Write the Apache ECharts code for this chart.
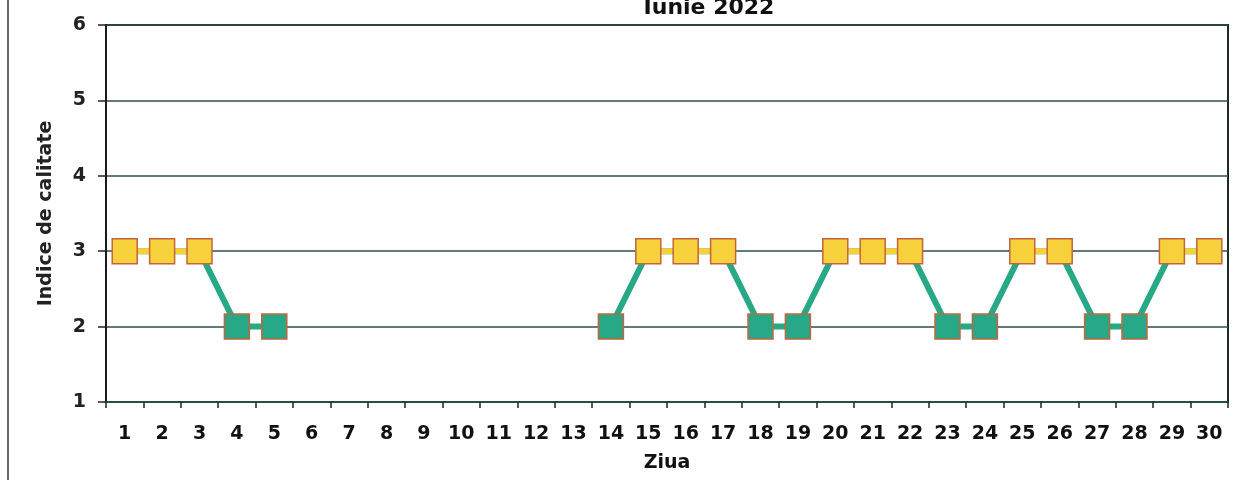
<!DOCTYPE html>
<html>
<head>
<meta charset="utf-8">
<script src="https://cdn.jsdelivr.net/npm/echarts@6/dist/echarts.min.js"></script>
<style>
  html, body { margin: 0; padding: 0; background: #fff; }
  #chart { width: 1256px; height: 480px; }
</style>
</head>
<body>
<div id="chart"></div>
<script>
// date
const zile = ['1','2','3','4','5','6','7','8','9','10','11','12','13','14','15','16','17','18','19','20','21','22','23','24','25','26','27','28','29','30']
const indice = [3, 3, 3, 2, 2, null, null, null, null, null, null, null, null, 2, 3, 3, 3, 2, 2, 3, 3, 3, 2, 2, 3, 3, 2, 2, 3, 3]
const yTicks = [1, 2, 3, 4, 5, 6]

const verde = '#27a886'
const galben = '#f7d13c'

// segmentele dintre doua valori 3 sunt galbene
const segGalben = indice.map((v, i) => {
  if (v !== 3) return null
  if (indice[i - 1] === 3 || indice[i + 1] === 3) return v
  return null
})

const el = document.getElementById('chart')
const chart = echarts.init(el)
const font = '"DejaVu Sans", Arial, sans-serif'

chart.setOption({
  animation: false,
  backgroundColor: '#fff',
  title: {
    text: 'Iunie 2022',
    left: 704,
    textAlign: 'center',
    top: -8,
    textStyle: { fontFamily: font, fontWeight: 'bold', fontSize: 22, color: '#111' }
  },
  grid: {
    left: 106, right: 28, top: 25, bottom: 78,
    show: true, borderColor: '#1e2a26', borderWidth: 2, backgroundColor: 'transparent'
  },
  xAxis: {
    type: 'category',
    data: zile,
    boundaryGap: true,
    name: 'Ziua',
    nameLocation: 'middle',
    nameGap: 52,
    nameTextStyle: { fontFamily: font, fontWeight: 'bold', fontSize: 19, color: '#111' },
    axisLine: { lineStyle: { color: '#24513f', width: 2 } },
    axisTick: { show: true, alignWithLabel: false, length: 6, lineStyle: { color: '#222', width: 1.5 } },
    axisLabel: { fontFamily: font, fontWeight: 'bold', fontSize: 19, color: '#111', margin: 23, interval: 0 },
    splitLine: { show: false }
  },
  yAxis: {
    type: 'value',
    min: yTicks[0],
    max: yTicks[yTicks.length - 1],
    interval: 1,
    name: 'Indice de calitate',
    nameLocation: 'middle',
    nameGap: 50,
    nameTextStyle: { fontFamily: font, fontWeight: 'bold', fontSize: 19, color: '#222' },
    axisLine: { show: true, lineStyle: { color: '#1a1a1a', width: 2 } },
    axisTick: { show: true, length: 8, lineStyle: { color: '#222', width: 1.5 } },
    axisLabel: { fontFamily: font, fontWeight: 'bold', fontSize: 19, color: '#222', margin: 20 },
    splitLine: { show: true, lineStyle: { color: '#2d4f4a', width: 1.5 } }
  },
  graphic: [{
    type: 'line',
    shape: { x1: 8, y1: 0, x2: 8, y2: 480 },
    style: { stroke: '#333', lineWidth: 1.5 }
  }],
  series: [
    {
      type: 'line',
      data: indice,
      connectNulls: false,
      symbol: 'none',
      z: 1,
      lineStyle: { color: verde, width: 6 }
    },
    {
      type: 'line',
      data: segGalben,
      connectNulls: false,
      symbol: 'none',
      z: 2,
      lineStyle: { color: galben, width: 6 }
    },
    {
      type: 'scatter',
      data: indice,
      symbol: 'rect',
      symbolSize: 25,
      z: 3,
      itemStyle: {
        opacity: 1,
        color: (p) => (p.value === 3 ? galben : verde),
        borderColor: '#c2653e',
        borderWidth: 1.5
      }
    }
  ]
})

window.addEventListener('resize', () => {
  chart.resize()
})
</script>
</body>
</html>
